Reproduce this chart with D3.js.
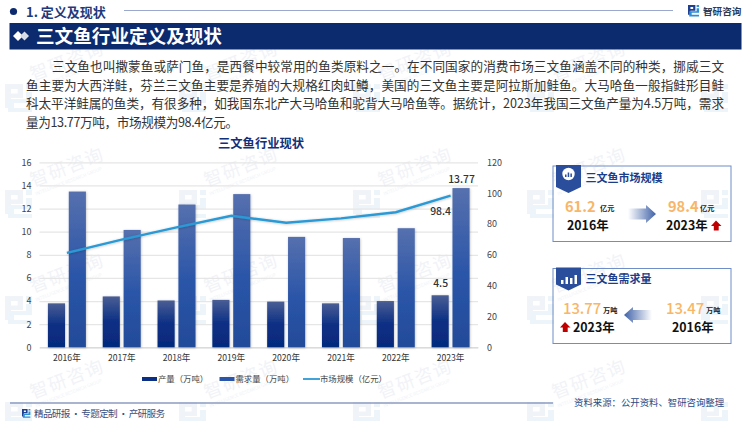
<!DOCTYPE html>
<html>
<head>
<meta charset="utf-8">
<script src="https://cdnjs.cloudflare.com/ajax/libs/d3/7.8.5/d3.min.js"></script>
<style>
  html, body { margin: 0; padding: 0; background: #fff; }
  svg { display: block; }
  text { font-family: "Noto Sans CJK SC", "Noto Sans", sans-serif; }
</style>
</head>
<body>
<script>
// values
const years = ['2016年', '2017年', '2018年', '2019年', '2020年', '2021年', '2022年', '2023年'];
const output = [3.8, 4.4, 4.05, 4.1, 3.95, 3.8, 4.0, 4.5];
const demand = [13.47, 10.15, 12.35, 13.25, 9.55, 9.45, 10.3, 13.77];
const market = [61.2, 69.8, 77.8, 85.3, 80.8, 83.6, 87.6, 98.4];
const leftTicks = [0, 2, 4, 6, 8, 10, 12, 14, 16];
const rightTicks = [0, 20, 40, 60, 80, 100, 120];
const legendNames = ['产量（万吨）', '需求量（万吨）', '市场规模（亿元）'];
const paragraph = [
  '三文鱼也叫撒蒙鱼或萨门鱼，是西餐中较常用的鱼类原料之一。在不同国家的消费市场三文鱼涵盖不同的种类，挪威三文',
  '鱼主要为大西洋鲑，芬兰三文鱼主要是养殖的大规格红肉虹鳟，美国的三文鱼主要是阿拉斯加鲑鱼。大马哈鱼一般指鲑形目鲑',
  '科太平洋鲑属的鱼类，有很多种，如我国东北产大马哈鱼和驼背大马哈鱼等。据统计，2023年我国三文鱼产量为4.5万吨，需求',
  '量为13.77万吨，市场规模为98.4亿元。'
];

const width = 750, height = 421;
const navy = '#0c2a6e';

const svg = d3.select('body').append('svg')
  .attr('width', width)
  .attr('height', height);

const defs = svg.append('defs');

function vGradient(id, stops) {
  const g = defs.append('linearGradient').attr('id', id)
    .attr('x1', 0).attr('y1', 0).attr('x2', 0).attr('y2', 1);
  stops.forEach(function(s) {
    g.append('stop').attr('offset', s[0]).attr('stop-color', s[1]);
  });
}
vGradient('gradOutput', [[0, '#4a5e94'], [0.5, '#0b2f84'], [1, '#052a7c']]);
vGradient('gradDemand', [[0, '#5670ae'], [0.55, '#2a55a8'], [1, '#234b99']]);

const arrowGrad = defs.append('linearGradient').attr('id', 'gradArrowR');
arrowGrad.append('stop').attr('offset', 0).attr('stop-color', '#fff');
arrowGrad.append('stop').attr('offset', 1).attr('stop-color', '#3f62a8');
const arrowGradL = defs.append('linearGradient').attr('id', 'gradArrowL');
arrowGradL.append('stop').attr('offset', 0).attr('stop-color', '#3f62a8');
arrowGradL.append('stop').attr('offset', 1).attr('stop-color', '#fff');

const shadow = defs.append('filter').attr('id', 'soft')
  .attr('x', '-20%').attr('y', '-20%').attr('width', '140%').attr('height', '140%');
shadow.append('feDropShadow').attr('dx', 0.5).attr('dy', 0.5)
  .attr('stdDeviation', 0.8).attr('flood-color', '#000').attr('flood-opacity', 0.25);

// the company logo, two blocky letters
function logo(g, x, y, s, colA, colB) {
  const l = g.append('g').attr('transform', 'translate(' + x + ',' + y + ') scale(' + s + ')');
  l.append('path').attr('fill', colA)
    .attr('d', 'M0 0H9V7H3V12H0ZM3 2.5V4.8H6.3V2.5Z');
  l.append('path').attr('fill', colB)
    .attr('d', 'M10.5 0H13.5V2.5H10.5ZM10.5 4H13.5V9.5H4.5V12H13.5V14H1.5V7.5H10.5Z');
}

// watermark behind everything, last column is only the logo so no text gets cut
const wm = svg.append('g').attr('class', 'watermark');
for (let row = -1; row < 3; row++) {
  for (let col = 0; col < 5; col++) {
    const wx = 33 + col * 174, wy = 187 + row * 106;
    if (col < 4) {
      const one = wm.append('g').attr('transform', 'translate(' + wx + ',' + wy + ') rotate(-21)');
      one.append('text').attr('x', 0).attr('y', 0)
        .attr('font-size', 18).attr('letter-spacing', 1.5).attr('fill', '#f1f3f7').text('智研咨询');
      one.append('text').attr('x', 0).attr('y', 9)
        .attr('font-size', 4.5).attr('fill', '#f1f3f7').text('INTELLIGENCE RESEARCH GROUP');
    }
    logo(wm, wx - 28, wy + 3, 2, '#f0f4f9', '#edf5fa');
  }
}

// page header
svg.append('circle').attr('cx', 13.5).attr('cy', 11.5).attr('r', 3.6).attr('fill', navy);
svg.append('text').attr('x', 26).attr('y', 16.5)
  .attr('font-size', 13).attr('font-weight', 700).attr('fill', '#1f3a7c').text('1. 定义及现状');
svg.append('line').attr('x1', 124).attr('x2', 673).attr('y1', 10.5).attr('y2', 10.5)
  .attr('stroke', '#9aa9cd').attr('stroke-width', 1.2);
logo(svg, 688, 5, 0.82, '#1f3f8f', '#2a8fd6');
svg.append('text').attr('x', 703).attr('y', 14.5)
  .attr('font-size', 9.6).attr('font-weight', 700).attr('fill', '#2b3a55').text('智研咨询');

// title band
svg.append('rect').attr('x', 9.5).attr('y', 23).attr('width', 732).attr('height', 26.5).attr('fill', navy);
svg.append('path').attr('fill', '#fff').attr('d', 'M13 36 L18 31 L23 36 L18 41 Z');
svg.append('path').attr('fill', '#d8dce6').attr('d', 'M20 36 L24.5 31.5 L29 36 L24.5 40.5 Z');
svg.append('text').attr('x', 36).attr('y', 42.8)
  .attr('font-size', 18.6).attr('font-weight', 700).attr('fill', '#fff').text('三文鱼行业定义及现状');

// body text, stretched to the column like the justified original
const paraX = [52, 26, 26, 26];
svg.append('g').selectAll('text').data(paragraph).enter().append('text')
  .attr('x', function(d, i) { return paraX[i]; })
  .attr('y', function(d, i) { return 71 + i * 18.6; })
  .attr('font-size', 12.6)
  .attr('fill', '#333')
  .attr('textLength', function(d, i) { return i < 3 ? 724 - paraX[i] : 212; })
  .attr('lengthAdjust', 'spacing')
  .text(function(d) { return d; });

// chart
svg.append('text').attr('x', 218).attr('y', 147.5)
  .attr('font-size', 12.3).attr('font-weight', 700).attr('fill', '#12307a').text('三文鱼行业现状');

const plot = { left: 39.5, right: 478, top: 162.3, bottom: 347.3 };

const x = d3.scaleBand().domain(years).range([plot.left, plot.right]);
const xSeries = d3.scaleBand().domain(['output', 'demand'])
  .range([x.bandwidth() / 2 - 19, x.bandwidth() / 2 + 19]).paddingInner(0.18);
const yLeft = d3.scaleLinear().domain([0, 16]).range([plot.bottom, plot.top]);
const yRight = d3.scaleLinear().domain([0, 120]).range([plot.bottom, plot.top]);

// gridlines come from the left axis ticks
const leftAxis = svg.append('g').attr('transform', 'translate(' + plot.left + ',0)')
  .call(d3.axisLeft(yLeft).tickValues(leftTicks).tickSize(-(plot.right - plot.left)).tickPadding(8));
leftAxis.select('.domain').remove();
leftAxis.selectAll('line').attr('stroke', '#e6e6e6').attr('stroke-width', 1.3);
leftAxis.selectAll('text').attr('font-size', 9).attr('fill', '#444');

const rightAxis = svg.append('g').attr('transform', 'translate(' + plot.right + ',0)')
  .call(d3.axisRight(yRight).tickValues(rightTicks).tickSize(0).tickPadding(9));
rightAxis.select('.domain').remove();
rightAxis.selectAll('text').attr('font-size', 9).attr('fill', '#444');

const bottomAxis = svg.append('g').attr('transform', 'translate(0,' + plot.bottom + ')')
  .call(d3.axisBottom(x).tickSize(0).tickPadding(8));
bottomAxis.select('.domain').attr('stroke', '#d4d4d4');
bottomAxis.selectAll('text').attr('font-size', 8.6).attr('fill', '#333');

svg.append('g').selectAll('rect').data(output).enter().append('rect')
  .attr('x', function(d, i) { return x(years[i]) + xSeries('output'); })
  .attr('y', function(d) { return yLeft(d); })
  .attr('width', xSeries.bandwidth())
  .attr('height', function(d) { return plot.bottom - yLeft(d); })
  .attr('fill', 'url(#gradOutput)')
  .attr('filter', 'url(#soft)');

svg.append('g').selectAll('rect').data(demand).enter().append('rect')
  .attr('x', function(d, i) { return x(years[i]) + xSeries('demand'); })
  .attr('y', function(d) { return yLeft(d); })
  .attr('width', xSeries.bandwidth())
  .attr('height', function(d) { return plot.bottom - yLeft(d); })
  .attr('fill', 'url(#gradDemand)')
  .attr('filter', 'url(#soft)');

const marketLine = d3.line()
  .x(function(d, i) { return x(years[i]) + x.bandwidth() / 2; })
  .y(function(d) { return yRight(d); });
svg.append('path').datum(market)
  .attr('d', marketLine)
  .attr('fill', 'none')
  .attr('stroke', '#2b9ad6')
  .attr('stroke-width', 2.4)
  .attr('filter', 'url(#soft)');

// value labels on the last year only
const last = years.length - 1;
const lastX = x(years[last]);
const labelStyle = function(sel) {
  sel.attr('text-anchor', 'middle').attr('font-size', 10.4).attr('font-weight', 500).attr('fill', '#333');
};
svg.append('text').attr('x', lastX + xSeries('demand') + xSeries.bandwidth() / 2 + 0.5).attr('y', yLeft(demand[last]) - 5.5)
  .call(labelStyle).text(demand[last]);
svg.append('text').attr('x', lastX + xSeries('output') + xSeries.bandwidth() / 2 + 0.5).attr('y', yLeft(output[last]) - 8)
  .call(labelStyle).text(output[last]);
svg.append('text').attr('x', lastX + x.bandwidth() / 2 - 10).attr('y', yRight(market[last]) + 19)
  .call(labelStyle).text(market[last]);

// legend
const legendX = [142, 219.5, 303];
const legend = svg.append('g').selectAll('g').data(legendNames).enter().append('g')
  .attr('transform', function(d, i) { return 'translate(' + legendX[i] + ',379)'; });
legend.filter(function(d, i) { return i < 2; }).append('rect')
  .attr('x', 0).attr('y', -2).attr('width', 15).attr('height', 4)
  .attr('fill', function(d, i) { return i === 0 ? '#0b2f84' : '#2a55a8'; });
legend.filter(function(d, i) { return i === 2; }).append('line')
  .attr('x1', 0).attr('x2', 17).attr('y1', 0).attr('y2', 0)
  .attr('stroke', '#2b9ad6').attr('stroke-width', 1.8);
legend.append('text')
  .attr('x', function(d, i) { return i === 2 ? 17 : 16; })
  .attr('y', 3)
  .attr('font-size', 8.4).attr('fill', '#444')
  .text(function(d) { return d; });

// footer
svg.append('line').attr('x1', 10).attr('x2', 553).attr('y1', 403).attr('y2', 403)
  .attr('stroke', '#8d9cc0').attr('stroke-width', 1.6);
logo(svg, 22, 409, 0.62, '#1f3f8f', '#2a8fd6');
svg.append('text').attr('x', 34).attr('y', 417)
  .attr('font-size', 9.6).attr('fill', '#3a4f7f')
  .attr('textLength', 131).attr('lengthAdjust', 'spacing')
  .text('精品研报 · 专题定制 · 产研服务');
svg.append('text').attr('x', 574).attr('y', 405.5)
  .attr('font-size', 9.4).attr('fill', '#2c4a86').text('资料来源：公开资料、智研咨询整理');

// the two summary cards
function cardFrame(top, h, title, titleY, bannerH) {
  svg.append('rect').attr('x', 553).attr('y', top).attr('width', 178).attr('height', h)
    .attr('fill', 'none').attr('stroke', '#6f8dc6').attr('stroke-width', 1);
  const t = top - 1;
  svg.append('path').attr('fill', '#2a4d9c')
    .attr('d', 'M556 ' + t + 'H581V' + (t + bannerH - 6) + 'L568.5 ' + (t + bannerH) + 'L556 ' + (t + bannerH - 6) + 'Z');
  svg.append('text').attr('x', 585.5).attr('y', titleY)
    .attr('font-size', 11).attr('font-weight', 700).attr('fill', '#1c3d8a').text(title);
}

function figure(xPos, yPos, value, unit, size, unitX, weight) {
  svg.append('text').attr('x', xPos).attr('y', yPos)
    .attr('font-size', size).attr('font-weight', weight).attr('fill', '#f8b668').text(value);
  svg.append('text').attr('x', unitX).attr('y', yPos - 1)
    .attr('font-size', 7.2).attr('font-weight', 700).attr('fill', '#222').text(unit);
}

function yearLabel(xPos, yPos, label) {
  svg.append('text').attr('x', xPos).attr('y', yPos)
    .attr('font-size', 12.4).attr('font-weight', 700).attr('fill', '#111').text(label);
}

function redArrow(xPos, yPos) {
  svg.append('path').attr('fill', '#c00000')
    .attr('transform', 'translate(' + xPos + ',' + yPos + ')')
    .attr('d', 'M5 0L10.5 5.5H7.7V10H2.8V5.5H0Z');
}

cardFrame(166, 75.5, '三文鱼市场规模', 181.5, 28);
// pie style badge with small bars inside
svg.append('circle').attr('cx', 568.5).attr('cy', 174).attr('r', 6.2).attr('fill', '#fff');
svg.append('path').attr('fill', '#2a4d9c').attr('d', 'M565 177V174.5H566.5V177ZM567.7 177V172.5H569.2V177ZM570.4 177V173.5H571.9V177Z');
figure(565, 212, '61.2', '亿元', 14.6, 600, 700);
yearLabel(567, 230, '2016年');
svg.append('path').attr('fill', 'url(#gradArrowR)')
  .attr('d', 'M628 208.5H646V205L656 214 646 223V219.5H628Z');
figure(668, 212, '98.4', '亿元', 14.6, 700, 700);
yearLabel(666, 230, '2023年');
redArrow(711, 220.5);

cardFrame(268.5, 75, '三文鱼需求量', 283, 23);
// little bar badge
svg.append('path').attr('fill', '#fff').attr('d', 'M561 284V280H563.5V284ZM565.5 284V277H568V284ZM570 284V278H572.5V284ZM574.5 284V275H577V284Z');
figure(563, 313.5, '13.77', '万吨', 14.8, 603, 500);
yearLabel(573, 331.5, '2023年');
redArrow(560, 322);
svg.append('path').attr('fill', 'url(#gradArrowL)')
  .attr('d', 'M652 310H633V307L624 315 633 323V320H652Z');
figure(666, 313.5, '13.47', '万吨', 14.8, 706, 500);
yearLabel(672, 331.5, '2016年');
</script>
</body>
</html>
